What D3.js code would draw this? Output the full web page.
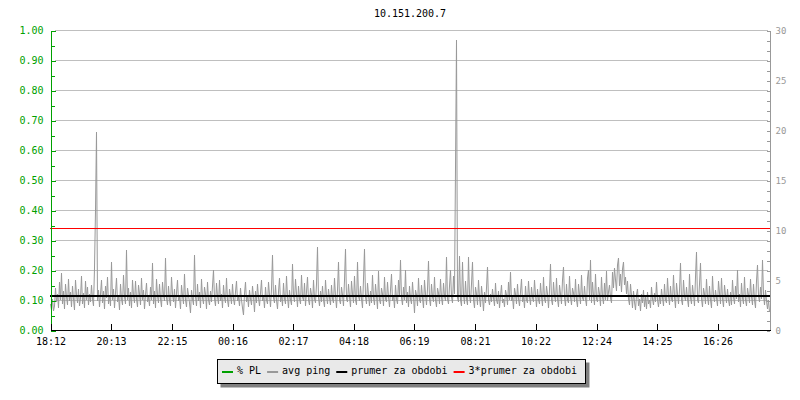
<!DOCTYPE html>
<html>

<head>
  <title>10.151.200.7</title>
  <meta charset="utf-8">
  <script src="https://d3js.org/d3.v7.js"></script>
  <style>
    body {
      margin: 0;
      background: #fff;
    }
    svg {
      display: block;
      font-family: "DejaVu Sans Mono", monospace;
      font-size: 10px;
    }
    .grid line {
      stroke: #bfbfbf;
      shape-rendering: crispEdges;
    }
    .axis path, .axis line {
      shape-rendering: crispEdges;
    }
  </style>
</head>

<body>
  <svg width="800" height="400"></svg>
  <script>

    // avg ping in ms, one sample every 2 minutes from 18:12
    var avgPing = [
      2.6,2.0,3.1,1.9,2.4,4.2,2.8,3.6,2.2,4.8,
      3.0,5.7,2.6,3.9,2.1,4.6,3.3,2.5,5.1,2.9,
      3.8,2.3,4.4,3.1,2.0,5.0,3.5,2.7,4.1,2.4,
      3.2,5.4,2.6,3.7,2.2,4.9,3.0,4.3,2.5,3.6,
      2.8,4.5,3.1,2.4,6.2,12.0,19.8,2.9,4.0,2.3,
      3.6,5.0,2.7,3.9,2.1,4.4,3.2,5.3,2.6,3.5,
      2.4,6.8,3.0,4.1,2.2,3.7,5.2,2.8,3.4,2.0,
      4.6,3.1,2.5,5.5,3.3,2.6,8.0,3.0,4.2,2.4,
      3.8,2.2,5.0,3.4,2.7,4.9,3.1,2.3,4.5,3.6,
      2.5,5.2,3.0,4.0,2.1,3.5,4.7,2.8,3.3,2.4,
      4.3,3.0,6.7,2.6,3.9,2.2,5.1,3.4,2.7,4.6,
      3.1,2.3,4.8,3.5,2.9,7.2,3.2,2.5,4.4,3.0,
      2.4,5.3,3.6,2.8,4.1,2.2,3.7,5.0,2.9,3.3,
      2.1,4.5,3.4,2.6,5.6,3.0,2.3,4.2,3.5,2.7,
      1.7,4.0,3.1,2.5,7.5,3.3,2.4,4.6,2.9,3.8,
      2.2,5.1,3.2,2.6,4.3,3.6,2.1,4.8,3.0,2.5,
      3.9,2.8,4.4,6.0,3.1,2.4,4.7,3.3,2.6,5.0,
      2.9,3.6,2.2,4.5,3.2,2.7,5.2,3.0,2.3,4.1,
      3.4,2.6,4.6,3.1,2.5,3.8,4.9,2.9,3.3,2.4,
      4.2,3.0,2.2,1.5,3.6,4.8,2.8,3.5,2.3,4.0,
      3.1,2.5,4.4,3.3,1.8,3.9,2.7,4.6,3.2,2.4,
      3.7,5.0,2.9,3.4,2.2,4.3,3.0,2.6,4.8,3.5,
      2.3,4.1,7.5,3.2,2.7,4.5,3.0,2.1,3.8,5.2,
      2.8,3.5,2.4,4.7,3.1,2.6,5.4,3.3,2.2,4.0,
      3.0,2.5,6.6,3.4,2.8,5.1,3.6,2.3,4.4,3.1,
      2.6,5.5,3.3,2.9,4.7,2.4,3.8,5.3,3.0,2.5,
      4.2,3.5,2.2,5.0,3.1,2.7,4.6,8.3,3.2,2.4,
      3.9,2.8,4.4,3.0,2.3,5.0,3.4,2.6,4.1,3.2,
      2.5,4.5,3.1,2.7,5.2,3.4,2.2,4.0,6.8,3.0,
      2.6,4.3,3.5,2.4,5.0,8.1,3.1,2.8,4.6,3.3,
      2.3,4.9,3.6,2.7,5.4,3.0,2.5,6.8,3.4,2.9,
      4.4,3.1,2.2,5.1,8.1,3.3,2.6,4.7,3.5,2.4,
      3.9,2.7,5.5,3.2,2.5,4.6,3.4,2.1,5.9,3.0,
      2.6,4.2,3.6,2.4,5.3,3.1,2.8,4.8,3.3,2.3,
      4.0,5.6,2.9,3.5,2.2,4.5,3.1,2.6,5.0,3.4,
      7.0,3.2,2.5,4.3,3.0,6.0,2.7,3.8,2.3,4.4,
      3.1,2.6,4.8,3.3,1.7,4.0,3.5,2.4,5.2,3.0,
      2.7,4.5,3.2,2.2,5.0,3.6,2.5,4.1,6.9,3.1,
      2.4,4.6,3.3,2.8,5.3,3.0,2.3,4.2,3.7,2.6,
      5.1,3.2,2.5,4.7,3.4,2.9,7.3,3.1,2.6,4.4,
      6.0,3.3,2.7,5.4,3.6,16.3,29.0,3.2,2.8,7.4,
      3.0,2.4,6.8,3.5,2.6,4.9,3.1,2.5,7.3,3.4,
      2.7,4.6,6.8,3.0,2.2,4.3,3.6,2.5,5.0,3.2,
      2.3,4.4,3.3,1.9,3.8,2.7,4.2,6.3,3.0,2.5,
      3.6,2.8,4.1,3.2,2.4,4.7,3.0,2.6,3.9,2.2,
      3.4,4.5,2.7,3.1,2.3,4.0,3.5,2.5,4.8,3.0,
      5.8,2.9,3.3,2.1,4.2,3.6,2.6,4.6,3.1,2.4,
      3.8,5.1,2.8,3.4,2.2,4.4,3.0,2.7,4.9,3.3,
      2.5,4.3,3.2,2.8,5.0,3.5,2.3,4.1,3.0,2.6,
      4.7,3.3,2.4,5.3,3.1,2.7,4.4,3.6,2.2,4.0,
      6.6,3.0,2.5,4.8,3.4,2.8,5.2,3.1,2.3,4.5,
      3.6,2.6,5.0,6.3,3.2,2.4,4.6,3.0,2.7,5.4,
      3.3,2.5,4.2,3.7,2.8,5.1,3.0,2.3,4.6,3.5,
      2.6,5.5,3.2,2.9,4.4,3.1,2.4,5.2,6.0,3.0,
      7.0,2.7,4.8,3.4,2.5,5.6,3.1,2.8,4.3,3.6,
      2.4,5.3,3.3,2.6,4.7,3.0,5.9,2.9,3.8,4.5,
      3.2,2.7,5.8,4.2,6.2,5.0,3.9,6.5,7.2,4.4,
      5.6,3.8,6.1,6.8,4.5,5.3,3.6,4.9,3.1,2.5,
      4.6,3.4,2.2,3.9,2.8,2.0,3.5,4.1,2.4,3.1,
      1.9,3.6,2.7,4.0,2.3,3.3,2.1,3.8,2.6,3.0,
      2.2,4.3,3.1,2.5,3.7,2.8,4.8,3.0,2.3,3.5,
      2.6,4.1,3.2,2.4,4.6,3.0,2.7,5.2,3.4,2.5,
      4.4,3.1,2.8,5.5,3.3,2.2,4.7,3.6,2.6,4.0,
      6.7,3.0,2.5,5.0,3.4,2.9,4.3,3.1,2.3,5.6,
      3.2,2.6,4.5,3.5,2.4,5.3,7.8,3.0,2.7,4.6,
      6.7,3.1,2.3,4.2,3.6,2.6,5.1,3.3,2.5,4.4,
      3.0,2.2,5.4,3.4,2.8,4.0,3.2,2.4,4.9,3.7,
      2.6,5.2,3.1,2.3,4.5,3.5,2.7,4.1,3.0,2.4,
      3.8,2.5,5.0,3.3,2.6,4.4,3.1,6.0,2.8,3.6,
      2.3,4.7,3.2,2.6,5.3,3.0,2.4,4.2,3.5,2.7,
      5.1,3.3,2.5,4.6,3.0,2.2,4.9,6.5,3.4,2.8,
      4.3,3.1,7.0,3.6,2.5,4.0,2.9,2.1,3.0,1.8
    ];

    var timeLabels = ["18:12", "20:13", "22:15", "00:16", "02:17", "04:18",
                      "06:19", "08:21", "10:22", "12:24", "14:25", "16:26"];
    var pingTicks = d3.range(0, 31);
    var prumer = 3.39; // average over the period, ms
    var legendNames = ["% PL", "avg ping", "prumer za obdobi", "3*prumer za obdobi"];
    var legendColors = ["#00a000", "#999999", "#000000", "#ff0000"];

    var svg = d3.select("svg");
    var start = new Date(2020, 0, 1, 18, 12);
    var step = 2; // minutes per sample

    var x = d3.scaleTime()
      .domain([start, d3.timeMinute.offset(start, 1440)])
      .range([50, 770]);
    var yPL = d3.scaleLinear().domain([0, 1]).range([330, 30]);
    var yPing = d3.scaleLinear().domain([0, 30]).range([330, 30]);

    function labelDate(s) {
      var p = s.split(":");
      var d = new Date(2020, 0, 1, +p[0], +p[1]);
      if (d < start) d = d3.timeDay.offset(d, 1);
      return d;
    }
    var tickDates = timeLabels.map(labelDate);

    // title
    svg.append("text")
      .attr("x", 410)
      .attr("y", 17)
      .attr("text-anchor", "middle")
      .attr("fill", "#000")
      .text("10.151.200.7");

    // horizontal grid
    svg.append("g")
      .attr("class", "grid")
      .selectAll("line")
      .data(yPL.ticks(10).filter(function (d) { return d > 0; }))
      .enter()
      .append("line")
      .attr("x1", 55)
      .attr("x2", 768)
      .attr("y1", function (d) { return Math.round(yPL(d)) + 0.5; })
      .attr("y2", function (d) { return Math.round(yPL(d)) + 0.5; });

    // avg ping
    var line = d3.line()
      .x(function (d, i) { return x(d3.timeMinute.offset(start, i * step)) + 0.5; })
      .y(function (d) { return yPing(d); });

    svg.append("path")
      .datum(avgPing)
      .attr("d", line)
      .attr("fill", "none")
      .attr("stroke", "#999999")
      .attr("stroke-width", 1);

    // average lines
    svg.append("line")
      .attr("x1", 50).attr("x2", 770)
      .attr("y1", yPing(prumer)).attr("y2", yPing(prumer))
      .attr("stroke", "#000")
      .attr("stroke-width", 2);

    svg.append("line")
      .attr("x1", 50).attr("x2", 770)
      .attr("y1", Math.round(yPing(3 * prumer)) + 0.5).attr("y2", Math.round(yPing(3 * prumer)) + 0.5)
      .attr("stroke", "#ff0000")
      .attr("stroke-width", 1)
      .style("shape-rendering", "crispEdges");

    // left axis (% PL), ticks inward
    var leftMinor = svg.append("g")
      .attr("class", "axis")
      .attr("transform", "translate(50.5,0.5)")
      .call(d3.axisLeft(yPL).tickValues(d3.range(0, 1.001, 0.05)).tickSizeInner(-4).tickSizeOuter(0).tickFormat(""));
    leftMinor.selectAll("path, line").attr("stroke", "#00a000");

    var leftAxis = svg.append("g")
      .attr("class", "axis")
      .attr("transform", "translate(50.5,0.5)")
      .call(d3.axisLeft(yPL).ticks(10).tickSizeInner(-5).tickSizeOuter(0).tickPadding(7).tickFormat(d3.format(".2f")));
    leftAxis.selectAll("path, line").attr("stroke", "#00a000");
    leftAxis.selectAll("text")
      .attr("fill", "#00a000")
      .attr("font-family", "DejaVu Sans Mono")
      .attr("font-size", 10);

    // right axis (avg ping), ticks inward
    var rightAxis = svg.append("g")
      .attr("class", "axis")
      .attr("transform", "translate(769.5,0.5)")
      .call(d3.axisRight(yPing).tickValues(pingTicks).tickSizeInner(-3).tickSizeOuter(0).tickPadding(6)
        .tickFormat(function (d) { return d % 5 === 0 ? d : ""; }));
    rightAxis.selectAll("path, line").attr("stroke", "#999999");
    rightAxis.selectAll("text")
      .attr("fill", "#999999")
      .attr("font-family", "DejaVu Sans Mono")
      .attr("font-size", 9);

    // time axis
    var bottomAxis = svg.append("g")
      .attr("class", "axis")
      .attr("transform", "translate(0.5,329.5)")
      .call(d3.axisBottom(x).tickValues(tickDates).tickSizeInner(-6).tickSizeOuter(0).tickPadding(8)
        .tickFormat(function (d, i) { return timeLabels[i]; }));
    bottomAxis.selectAll("path, line").attr("stroke", "#000");
    bottomAxis.selectAll("text")
      .attr("fill", "#000")
      .attr("font-family", "DejaVu Sans Mono")
      .attr("font-size", 10);

    // legend
    var legend = svg.append("g");
    var shadow = legend.append("rect").attr("fill", "#808080");
    var box = legend.append("rect").attr("fill", "#e9e9e9").attr("stroke", "#000").style("shape-rendering", "crispEdges");

    var cx = 222;
    legendNames.forEach(function (name, i) {
      legend.append("rect")
        .attr("x", cx)
        .attr("y", 371)
        .attr("width", 11)
        .attr("height", 2)
        .attr("fill", legendColors[i]);
      var t = legend.append("text")
        .attr("x", cx + 15)
        .attr("y", 374)
        .attr("fill", "#000")
        .text(name);
      cx += 15 + t.node().getComputedTextLength() + 6;
    });

    var boxW = cx - 6 + 8 - 217;
    box.attr("x", 217.5).attr("y", 359.5).attr("width", boxW).attr("height", 24);
    shadow.attr("x", 220.5).attr("y", 362.5).attr("width", boxW + 1).attr("height", 25);

  </script>
</body>

</html>
